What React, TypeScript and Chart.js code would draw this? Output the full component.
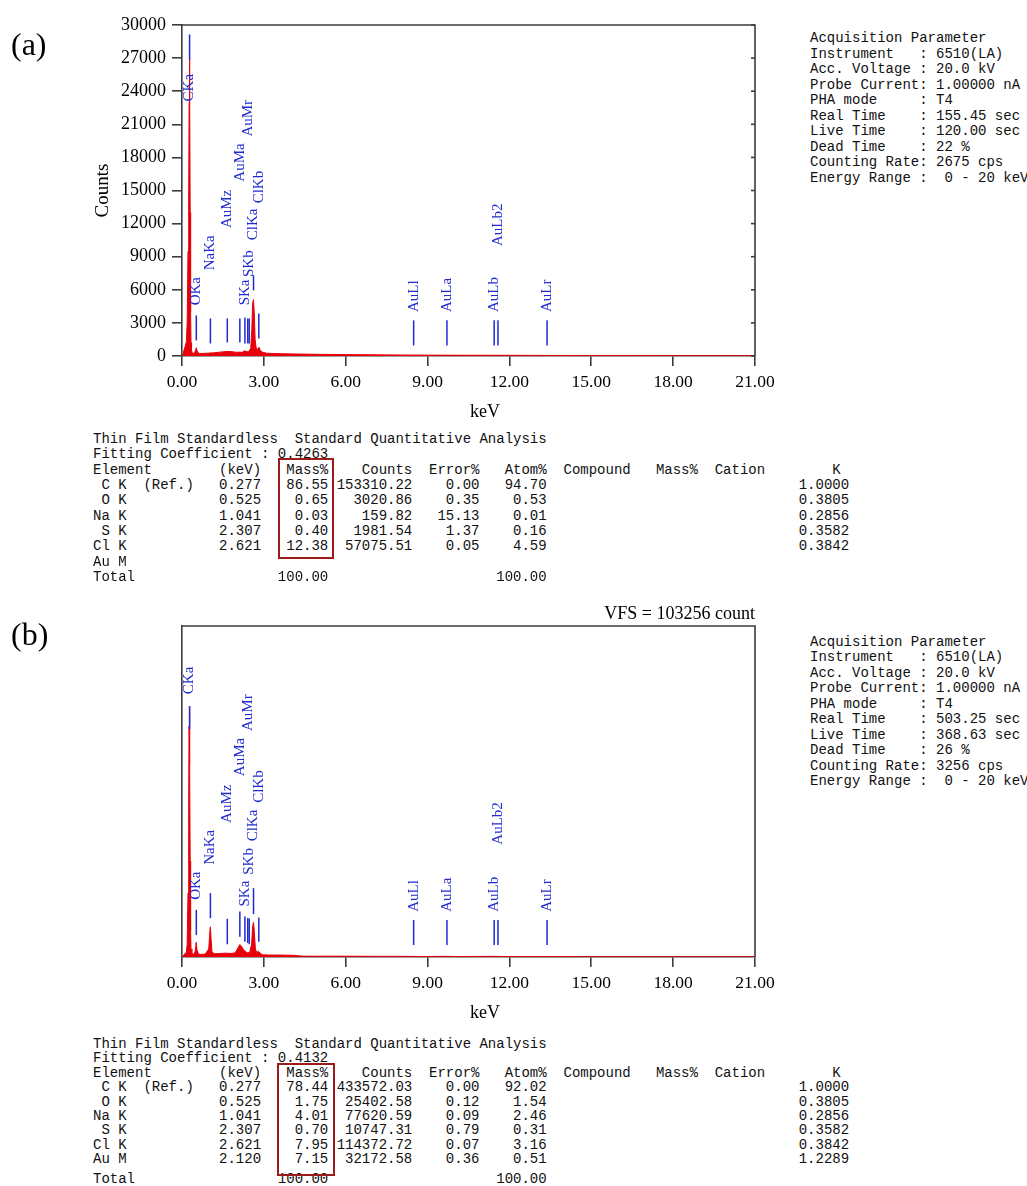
import React, { useEffect, useRef } from "react";
import { Chart, registerables } from "chart.js";

Chart.register(...registerables);

const SERIF = '"Liberation Serif", "Times New Roman", serif';
const MONO = '"Liberation Mono", "Courier New", monospace';
const RED = "#e8000a";
const BLUE = "#1f2ad0";
const AXIS = "#3c3c3c";

// ---------- axes ----------
const xTickValues = [0, 3, 6, 9, 12, 15, 18, 21];
const yTickValuesA = [0, 3000, 6000, 9000, 12000, 15000, 18000, 21000, 24000, 27000, 30000];
const yMaxA = 30000;
const yMaxB = 103256;

// ---------- spectrum (a) ----------
const energiesA = [0.0, 0.04, 0.08, 0.12, 0.16, 0.19, 0.22, 0.245, 0.26, 0.27, 0.28, 0.29, 0.3, 0.315, 0.33, 0.35, 0.38, 0.42, 0.46, 0.5, 0.525, 0.55, 0.6, 0.7, 0.85, 1.0, 1.04, 1.08, 1.2, 1.4, 1.6, 1.8, 1.95, 2.05, 2.12, 2.2, 2.3, 2.38, 2.45, 2.52, 2.56, 2.59, 2.62, 2.65, 2.68, 2.72, 2.77, 2.82, 2.87, 2.95, 3.1, 3.4, 3.8, 4.2, 5.0, 6.0, 7.0, 8.0, 9.0, 10.0, 12.0, 15.0, 18.0, 21.0];
const countsA = [0, 200, 600, 900, 1300, 3000, 9500, 14000, 23000, 27000, 26500, 24000, 13000, 4000, 1200, 500, 300, 250, 300, 550, 750, 500, 250, 220, 250, 260, 290, 270, 300, 350, 400, 400, 350, 330, 360, 320, 480, 380, 400, 700, 2500, 4800, 5100, 3800, 1500, 700, 600, 800, 500, 350, 250, 220, 200, 180, 150, 130, 110, 90, 80, 70, 60, 40, 30, 20];

// ---------- spectrum (b) ----------
const energiesB = [0.0, 0.04, 0.08, 0.12, 0.16, 0.19, 0.22, 0.245, 0.26, 0.27, 0.28, 0.29, 0.3, 0.315, 0.33, 0.36, 0.4, 0.45, 0.49, 0.52, 0.55, 0.6, 0.7, 0.85, 0.98, 1.02, 1.04, 1.07, 1.1, 1.2, 1.4, 1.6, 1.8, 1.95, 2.05, 2.12, 2.18, 2.25, 2.32, 2.4, 2.48, 2.55, 2.59, 2.62, 2.65, 2.69, 2.74, 2.8, 2.86, 2.95, 3.2, 3.6, 4.0, 4.2, 4.4, 5.0, 6.0, 7.0, 8.0, 8.5, 9.0, 9.7, 10.0, 11.5, 12.0, 15.0, 18.0, 21.0];
const countsB = [0, 300, 800, 1200, 1500, 4000, 20000, 50000, 72000, 78000, 76000, 60000, 30000, 8000, 2500, 1200, 900, 1000, 2000, 4600, 2200, 900, 800, 900, 2500, 8000, 9400, 5000, 1500, 1000, 1100, 1200, 1100, 1300, 2800, 3900, 3300, 2400, 1800, 1300, 1400, 4000, 9500, 10800, 8000, 2500, 1400, 1800, 1200, 700, 600, 600, 550, 450, 250, 250, 250, 200, 200, 180, 150, 200, 150, 200, 130, 100, 80, 60];

// ---------- KLM markers ----------
const markerNames = ["CKa", "OKa", "NaKa", "AuMz", "AuMa", "SKa", "AuMr", "SKb", "ClKa", "ClKb", "AuLl", "AuLa", "AuLb", "AuLb2", "AuLr"];
const markerEnergies = [0.277, 0.525, 1.041, 1.66, 2.12, 2.307, 2.41, 2.464, 2.621, 2.815, 8.49, 9.71, 11.44, 11.58, 13.38];
const markerTopA = [29140, 3680, 3410, 3410, 3410, 3500, 3410, 3410, 7320, 3860, 3230, 3230, 3230, 3230, 3230];
const markerBottomA = [26870, 1410, 1140, 1230, 1230, 1140, 1140, 1140, 5950, 1590, 960, 960, 960, 960, 960];
const markerLabelA = [23070, 4590, 7770, 11590, 15800, 4590, 19890, 7160, 10500, 13840, 3980, 3980, 3980, 9960, 3980];
const markerTopB = [78320, 14710, 19930, 11890, 14180, 12610, 12200, 12000, 21490, 12300, 11580, 11580, 11580, 11580, 11580];
const markerBottomB = [71030, 6880, 12110, 3970, 6350, 4790, 4380, 3970, 13360, 4790, 3750, 3750, 3750, 3750, 3750];
const markerLabelB = [81980, 17840, 28790, 41830, 56420, 15740, 70500, 25650, 36080, 48100, 14080, 14080, 14080, 35050, 14080];

// ---------- acquisition parameters ----------
const paramLabels = ["Instrument   ", "Acc. Voltage ", "Probe Current", "PHA mode     ", "Real Time    ", "Live Time    ", "Dead Time    ", "Counting Rate", "Energy Range "];
const paramValuesA = ["6510(LA)", "20.0 kV", "1.00000 nA", "T4", "155.45 sec", "120.00 sec", "22 %", "2675 cps", " 0 - 20 keV"];
const paramValuesB = ["6510(LA)", "20.0 kV", "1.00000 nA", "T4", "503.25 sec", "368.63 sec", "26 %", "3256 cps", " 0 - 20 keV"];

// ---------- quantitative tables ----------
const tableElements = [" C K  (Ref.)", " O K", "Na K", " S K", "Cl K", "Au M"];
const fittingA = "0.4263";
const keVA = ["0.277", "0.525", "1.041", "2.307", "2.621", ""];
const massA = ["86.55", "0.65", "0.03", "0.40", "12.38", ""];
const countsTabA = ["153310.22", "3020.86", "159.82", "1981.54", "57075.51", ""];
const errorA = ["0.00", "0.35", "15.13", "1.37", "0.05", ""];
const atomA = ["94.70", "0.53", "0.01", "0.16", "4.59", ""];
const kA = ["1.0000", "0.3805", "0.2856", "0.3582", "0.3842", ""];

const fittingB = "0.4132";
const keVB = ["0.277", "0.525", "1.041", "2.307", "2.621", "2.120"];
const massB = ["78.44", "1.75", "4.01", "0.70", "7.95", "7.15"];
const countsTabB = ["433572.03", "25402.58", "77620.59", "10747.31", "114372.72", "32172.58"];
const errorB = ["0.00", "0.12", "0.09", "0.79", "0.07", "0.36"];
const atomB = ["92.02", "1.54", "2.46", "0.31", "3.16", "0.51"];
const kB = ["1.0000", "0.3805", "0.2856", "0.3582", "0.3842", "1.2289"];
const totalMass = "100.00";
const totalAtom = "100.00";

// ---------- helpers ----------
function placeAt(items: [string, number][]): string {
  const arr: string[] = [];
  items.forEach(([t, c]) => {
    while (arr.length < c) arr.push(" ");
    for (let i = 0; i < t.length; i++) arr[c + i] = t[i];
  });
  return arr.map((c) => c || " ").join("").replace(/\s+$/, "");
}
function rightAt(t: string, endCol: number): [string, number] {
  return [t, endCol - t.length + 1];
}

function buildTable(fitting: string, keV: string[], mass: string[], cnt: string[], err: string[], atom: string[], k: string[]): string[] {
  const lines: string[] = [];
  lines.push("Thin Film Standardless  Standard Quantitative Analysis");
  lines.push("Fitting Coefficient : " + fitting);
  lines.push(placeAt([["Element", 0], ["(keV)", 15], ["Mass%", 23], ["Counts", 32], ["Error%", 40], ["Atom%", 49], ["Compound", 56], ["Mass%", 67], ["Cation", 74], ["K", 88]]));
  tableElements.forEach((el, i) => {
    const items: [string, number][] = [[el, 0]];
    if (keV[i]) items.push(rightAt(keV[i], 19));
    if (mass[i]) items.push(rightAt(mass[i], 27));
    if (cnt[i]) items.push(rightAt(cnt[i], 37));
    if (err[i]) items.push(rightAt(err[i], 45));
    if (atom[i]) items.push(rightAt(atom[i], 53));
    if (k[i]) items.push(rightAt(k[i], 89));
    lines.push(placeAt(items));
  });
  lines.push(placeAt([["Total", 0], rightAt(totalMass, 27), rightAt(totalAtom, 53)]));
  return lines;
}

function buildParams(values: string[]): string[] {
  return ["Acquisition Parameter", ...paramLabels.map((l, i) => l + ": " + values[i])];
}

function TextBlock(props: { lines: string[]; left: number; firstCenter: number; lineHeight: number; lastExtra?: number }) {
  const { lines, left, firstCenter, lineHeight, lastExtra = 0 } = props;
  return (
    <>
      {lines.map((l, i) => (
        <div
          key={i}
          style={{
            position: "absolute",
            left,
            top: firstCenter + i * lineHeight + (i === lines.length - 1 ? lastExtra : 0) - 8,
            fontFamily: MONO,
            fontSize: 14,
            lineHeight: "16px",
            whiteSpace: "pre",
            color: "#111",
          }}
        >
          {l}
        </div>
      ))}
    </>
  );
}

type SpecProps = {
  top: number;
  energies: number[];
  counts: number[];
  yMax: number;
  yTicks: number[] | null;
  mTop: number[];
  mBottom: number[];
  mLabel: number[];
};

function Spectrum(p: SpecProps) {
  const ref = useRef<HTMLCanvasElement>(null);
  useEffect(() => {
    const markerPlugin = {
      id: "klmMarkers",
      afterDatasetsDraw(chart: any) {
        const { ctx, scales } = chart;
        const x = scales.x;
        const y = scales.y;
        ctx.save();
        ctx.strokeStyle = BLUE;
        ctx.fillStyle = BLUE;
        ctx.lineWidth = 1.5;
        ctx.font = `15px ${SERIF}`;
        markerNames.forEach((name, i) => {
          const px = x.getPixelForValue(markerEnergies[i]);
          ctx.beginPath();
          ctx.moveTo(px, y.getPixelForValue(p.mTop[i]));
          ctx.lineTo(px, y.getPixelForValue(p.mBottom[i]));
          ctx.stroke();
          ctx.save();
          ctx.translate(px, y.getPixelForValue(p.mLabel[i]));
          ctx.rotate(-Math.PI / 2);
          ctx.textAlign = "left";
          ctx.textBaseline = "middle";
          ctx.fillText(name, 0, 0);
          ctx.restore();
        });
        ctx.restore();
      },
    };
    const framePlugin = {
      id: "frame",
      afterDatasetsDraw(chart: any) {
        const { ctx, chartArea, scales } = chart;
        const { left, top, right, bottom } = chartArea;
        ctx.save();
        ctx.strokeStyle = AXIS;
        ctx.lineWidth = 1.6;
        ctx.beginPath();
        ctx.moveTo(left - 0.8, top);
        ctx.lineTo(right, top);
        ctx.lineTo(right, bottom);
        ctx.stroke();
        if (p.yTicks) {
          p.yTicks.forEach((v) => {
            const py = scales.y.getPixelForValue(v);
            ctx.beginPath();
            ctx.moveTo(right - 4, py);
            ctx.lineTo(right, py);
            ctx.stroke();
          });
        }
        ctx.restore();
      },
    };
    const xTickFont = { family: SERIF, size: 17.5 };
    const yTickFont = { family: SERIF, size: 18 };
    const chart = new Chart(ref.current as HTMLCanvasElement, {
      type: "line",
      data: {
        datasets: [
          {
            data: p.energies.map((e, i) => ({ x: e, y: p.counts[i] })),
            borderColor: RED,
            backgroundColor: RED,
            borderWidth: 1,
            pointRadius: 0,
            fill: "origin",
            tension: 0,
          },
        ],
      },
      options: {
        animation: false,
        responsive: false,
        maintainAspectRatio: false,
        devicePixelRatio: 1,
        layout: { padding: { left: 0, top: 25, right: 45, bottom: 0 } },
        plugins: { legend: { display: false }, tooltip: { enabled: false } },
        scales: {
          x: {
            type: "linear",
            min: 0,
            max: 21,
            afterBuildTicks: (s: any) => {
              s.ticks = xTickValues.map((v) => ({ value: v }));
            },
            afterFit: (s: any) => {
              s.height = 64;
            },
            ticks: {
              callback: (v: any) => Number(v).toFixed(2),
              font: xTickFont,
              color: "#000",
              padding: 6,
              maxRotation: 0,
              autoSkip: false,
            },
            grid: { display: true, drawOnChartArea: false, drawTicks: true, tickLength: 10, color: AXIS, lineWidth: 1.6 },
            border: { display: true, color: AXIS, width: 1.6 },
          },
          y: {
            type: "linear",
            min: 0,
            max: p.yMax,
            afterBuildTicks: (s: any) => {
              if (p.yTicks) s.ticks = p.yTicks.map((v) => ({ value: v }));
            },
            afterFit: (s: any) => {
              s.width = 182;
            },
            ticks: {
              display: !!p.yTicks,
              callback: (v: any) => String(Math.round(Number(v))),
              font: yTickFont,
              color: "#000",
              padding: 6,
              autoSkip: false,
            },
            grid: { display: !!p.yTicks, drawOnChartArea: false, drawTicks: true, tickLength: 10, color: AXIS, lineWidth: 1.6 },
            border: { display: true, color: AXIS, width: 1.6 },
            title: {
              display: !!p.yTicks,
              text: "Counts",
              font: { family: SERIF, size: 19 },
              color: "#000",
              padding: { top: 92, bottom: 0 },
            },
          },
        },
      },
      plugins: [markerPlugin, framePlugin],
    } as any);
    return () => chart.destroy();
  }, []);
  return (
    <canvas
      ref={ref}
      width={800}
      height={420}
      style={{ position: "absolute", left: 0, top: p.top, width: 800, height: 420 }}
    />
  );
}

const serifText = (text: string, style: React.CSSProperties) => (
  <div style={{ position: "absolute", fontFamily: SERIF, color: "#000", whiteSpace: "pre", lineHeight: 1, ...style }}>{text}</div>
);

export default function App() {
  const tableA = buildTable(fittingA, keVA, massA, countsTabA, errorA, atomA, kA);
  const tableB = buildTable(fittingB, keVB, massB, countsTabB, errorB, atomB, kB);
  return (
    <div style={{ position: "absolute", left: 0, top: 0, width: 1027, height: 1186, overflow: "hidden", background: "#fff" }}>
      <Spectrum top={0} energies={energiesA} counts={countsA} yMax={yMaxA} yTicks={yTickValuesA} mTop={markerTopA} mBottom={markerBottomA} mLabel={markerLabelA} />
      <Spectrum top={601} energies={energiesB} counts={countsB} yMax={yMaxB} yTicks={null} mTop={markerTopB} mBottom={markerBottomB} mLabel={markerLabelB} />

      {serifText("(a)", { left: 11, top: 28, fontSize: 32 })}
      {serifText("(b)", { left: 11, top: 618, fontSize: 32 })}
      {serifText("keV", { left: 470, top: 402, fontSize: 18 })}
      {serifText("keV", { left: 470, top: 1003, fontSize: 18 })}
      {serifText("VFS = 103256 count", { right: 1027 - 755, top: 604, fontSize: 18 })}

      <TextBlock lines={buildParams(paramValuesA)} left={810} firstCenter={38.3} lineHeight={15.5} />
      <TextBlock lines={buildParams(paramValuesB)} left={810} firstCenter={641.7} lineHeight={15.5} />

      <TextBlock lines={tableA} left={93} firstCenter={439} lineHeight={15.33} />
      <TextBlock lines={tableB} left={93} firstCenter={1044} lineHeight={14.4} lastExtra={5.5} />

      <div style={{ position: "absolute", left: 278, top: 457.5, width: 52, height: 97, border: "2px solid #9b1b1b" }} />
      <div style={{ position: "absolute", left: 277, top: 1062.5, width: 54, height: 109, border: "2px solid #9b1b1b" }} />
    </div>
  );
}
